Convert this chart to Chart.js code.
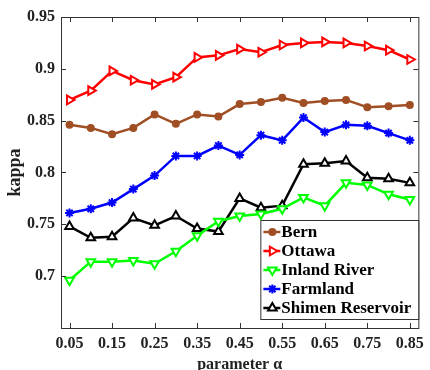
<!DOCTYPE html>
<html>
<head>
<meta charset="utf-8">
<script src="https://cdn.jsdelivr.net/npm/chart.js@4.4.0/dist/chart.umd.min.js"></script>
<style>
  html, body { margin: 0; padding: 0; background: #fff; }
  #wrap { width: 430px; height: 370px; }
</style>
</head>
<body>
<div id="wrap"><canvas id="myChart"></canvas></div>
<script>
var alphas = [0.05, 0.10, 0.15, 0.20, 0.25, 0.30, 0.35, 0.40, 0.45, 0.50, 0.55, 0.60, 0.65, 0.70, 0.75, 0.80, 0.85];
var bern = [0.846, 0.843, 0.837, 0.843, 0.856, 0.847, 0.856, 0.854, 0.866, 0.868, 0.872, 0.867, 0.869, 0.870, 0.863, 0.864, 0.865];
var ottawa = [0.870, 0.879, 0.898, 0.889, 0.885, 0.892, 0.911, 0.913, 0.919, 0.916, 0.923, 0.925, 0.926, 0.925, 0.922, 0.918, 0.909];
var inlandRiver = [0.696, 0.714, 0.714, 0.715, 0.712, 0.724, 0.739, 0.753, 0.758, 0.760, 0.765, 0.776, 0.768, 0.790, 0.788, 0.779, 0.774];
var farmland = [0.761, 0.765, 0.771, 0.784, 0.797, 0.816, 0.816, 0.826, 0.817, 0.836, 0.831, 0.853, 0.839, 0.846, 0.845, 0.838, 0.831];
var shimen = [0.748, 0.737, 0.738, 0.756, 0.749, 0.758, 0.746, 0.743, 0.775, 0.766, 0.768, 0.808, 0.809, 0.811, 0.795, 0.794, 0.790];

var xTicks = [0.05, 0.15, 0.25, 0.35, 0.45, 0.55, 0.65, 0.75, 0.85];
var yTicks = [0.7, 0.75, 0.8, 0.85, 0.9, 0.95];

var serif = "'Liberation Serif', 'Times New Roman', serif";

function pts(arr) {
  return arr.map(function(v, i) { return { x: alphas[i], y: v }; });
}

function series(label, data, color, style, rot, radius, fill) {
  return {
    label: label,
    data: pts(data),
    borderColor: color,
    backgroundColor: fill,
    borderWidth: 2.5,
    pointStyle: style,
    pointRotation: rot,
    pointRadius: radius,
    pointBorderColor: color,
    pointBackgroundColor: fill,
    pointBorderWidth: 2,
    tension: 0
  };
}

// box round the plot with inward ticks on all four sides
var framePlugin = {
  id: 'frame',
  afterDatasetsDraw: function(chart) {
    var ctx = chart.ctx, a = chart.chartArea;
    var xs = chart.scales.x, ys = chart.scales.y;
    ctx.save();
    ctx.strokeStyle = '#333';
    ctx.lineWidth = 1;
    ctx.strokeRect(a.left + 0.5, a.top + 0.5, a.right - a.left, a.bottom - a.top);
    ctx.beginPath();
    xTicks.forEach(function(v) {
      var px = Math.round(xs.getPixelForValue(v)) + 0.5;
      ctx.moveTo(px, a.bottom); ctx.lineTo(px, a.bottom - 5);
      ctx.moveTo(px, a.top); ctx.lineTo(px, a.top + 5);
    });
    yTicks.forEach(function(v) {
      var py = Math.round(ys.getPixelForValue(v)) + 0.5;
      ctx.moveTo(a.left, py); ctx.lineTo(a.left + 5, py);
      ctx.moveTo(a.right, py); ctx.lineTo(a.right - 5, py);
    });
    ctx.stroke();
    ctx.restore();
  }
};

// legend in the lower right corner of the plot
var legendPlugin = {
  id: 'boxLegend',
  afterDraw: function(chart) {
    var ctx = chart.ctx, a = chart.chartArea;
    var w = 158, h = 99;
    var x0 = a.right - w, y0 = a.bottom - 9 - h;
    ctx.save();
    ctx.fillStyle = '#fff';
    ctx.fillRect(x0, y0, w, h);
    ctx.strokeStyle = '#333';
    ctx.lineWidth = 1;
    ctx.strokeRect(x0 + 0.5, y0 + 0.5, w, h);
    ctx.font = 'bold 17px ' + serif;
    ctx.textBaseline = 'middle';
    chart.data.datasets.forEach(function(ds, i) {
      var cy = y0 + 12 + i * 19;
      ctx.strokeStyle = ds.borderColor;
      ctx.lineWidth = 2.5;
      ctx.beginPath();
      ctx.moveTo(x0 + 3, cy); ctx.lineTo(x0 + 20, cy);
      ctx.stroke();
      ctx.fillStyle = ds.pointBackgroundColor;
      ctx.lineWidth = 2;
      Chart.helpers.drawPoint(ctx, {
        pointStyle: ds.pointStyle, radius: ds.pointRadius,
        rotation: ds.pointRotation, borderWidth: 2
      }, x0 + 12, cy);
      ctx.fillStyle = '#000';
      ctx.fillText(ds.label, x0 + 21, cy + 1);
    });
    ctx.restore();
  }
};

var ctx = document.getElementById('myChart').getContext('2d');
var chart = new Chart(ctx, {
  type: 'line',
  data: {
    datasets: [
      series('Bern', bern, 'rgb(160,78,36)', 'circle', 0, 3, 'rgb(160,78,36)'),
      series('Ottawa', ottawa, '#ff0000', 'triangle', 90, 5, '#fff'),
      series('Inland River', inlandRiver, '#00ff00', 'triangle', 180, 5, '#fff'),
      series('Farmland', farmland, '#0000ff', 'star', 0, 4.5, '#0000ff'),
      series('Shimen Reservoir', shimen, '#000000', 'triangle', 0, 5, '#fff')
    ]
  },
  options: {
    responsive: true,
    maintainAspectRatio: false,
    animation: false,
    devicePixelRatio: 1,
    layout: { autoPadding: false, padding: { top: 17, right: 7, left: 0, bottom: 0 } },
    plugins: { legend: { display: false }, tooltip: { enabled: false } },
    scales: {
      x: {
        type: 'linear',
        min: 0.03,
        max: 0.87,
        afterBuildTicks: function(s) { s.ticks = xTicks.map(function(v) { return { value: v }; }); },
        afterFit: function(s) { s.height = 42; },
        grid: { display: false, drawTicks: false },
        border: { display: false },
        ticks: {
          padding: 6,
          color: '#222',
          font: { family: serif, size: 16, weight: 'bold' },
          callback: function(v) { return v.toFixed(2); }
        },
        title: {
          display: true,
          text: 'parameter α',
          color: '#222',
          font: { family: serif, size: 16, weight: 'bold' },
          padding: { top: 0, bottom: -4 }
        }
      },
      y: {
        min: 0.65,
        max: 0.95,
        afterBuildTicks: function(s) { s.ticks = yTicks.map(function(v) { return { value: v }; }); },
        afterFit: function(s) { s.width = 61; },
        grid: { display: false, drawTicks: false },
        border: { display: false },
        ticks: {
          padding: 6,
          color: '#222',
          font: { family: serif, size: 16, weight: 'bold' },
          callback: function(v) { return String(Math.round(v * 100) / 100); }
        },
        title: {
          display: true,
          text: 'kappa',
          color: '#222',
          font: { family: serif, size: 18, weight: 'bold' },
          padding: { top: 5, bottom: 0 }
        }
      }
    }
  },
  plugins: [framePlugin, legendPlugin]
});
</script>
</body>
</html>
